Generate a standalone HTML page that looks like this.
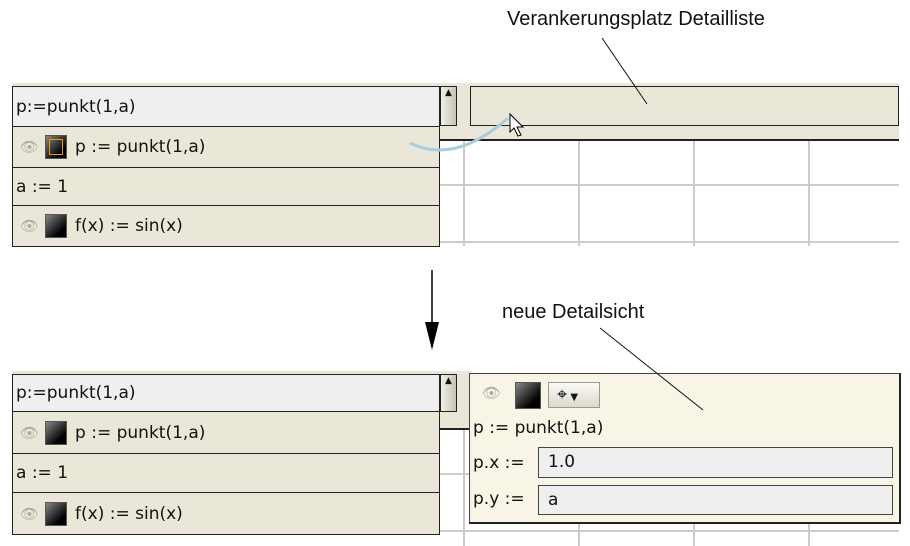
<!DOCTYPE html>
<html><head><style>
body{margin:0;width:910px;height:546px;background:#fff;position:relative;overflow:hidden;font-family:"DejaVu Sans","Liberation Sans",sans-serif;font-size:17px;color:#111}
.a{position:absolute;box-sizing:border-box}
.row{position:absolute;box-sizing:border-box;left:12px;width:428px;border:1px solid #222;border-top:none;background:#ebe7d8;padding-left:3px;display:flex;align-items:center}
.hdr{border-top:1px solid #222;background:#efefef}
.eye{color:#aaa;font-size:15px;margin:0 6px 0 4px}
.sq{width:22px;height:24px;background:linear-gradient(135deg,#888,#000 75%);border:1px solid #555;margin-right:8px;box-sizing:border-box}
.lab{font-family:"Liberation Sans",sans-serif;font-size:20px}
.gl{position:absolute;background:#ccc}
</style></head><body>
<div class="a lab" style="left:507px;top:8px">Verankerungsplatz Detailliste</div>
<div class="a lab" style="left:502px;top:301px">neue Detailsicht</div>

<div class="gl" style="left:463px;top:141px;width:2px;height:105px"></div>
<div class="gl" style="left:578px;top:141px;width:2px;height:105px"></div>
<div class="gl" style="left:693px;top:141px;width:2px;height:105px"></div>
<div class="gl" style="left:808px;top:141px;width:2px;height:105px"></div>
<div class="gl" style="left:440px;top:184px;width:459px;height:2px"></div>
<div class="gl" style="left:440px;top:241px;width:459px;height:2px"></div>
<div class="a" style="left:12px;top:83px;width:887px;height:58px;background:#ebe7d8;border-bottom:2px solid #222"></div>
<div class="a" style="left:470px;top:86px;width:429px;height:40px;border:1px solid #222;background:#ebe7d8"></div>
<div class="a" style="left:440px;top:86px;width:17px;height:40px;border:1px solid #222;background:linear-gradient(90deg,#f2f0e6,#c8c4b4);font-size:9px;text-align:center;line-height:12px">▲</div>
<div class="row hdr" style="top:86px;height:41px">p:=punkt(1,a)</div>
<div class="row" style="top:127px;height:41px"><span class="eye">👁</span><div class="sq" style="outline:1px solid #e90;outline-offset:-5px"></div>p := punkt(1,a)</div>
<div class="row" style="top:168px;height:38px">a := 1</div>
<div class="row" style="top:206px;height:41px"><span class="eye">👁</span><div class="sq"></div>f(x) := sin(x)</div>

<div class="gl" style="left:463px;top:430px;width:2px;height:116px"></div>
<div class="gl" style="left:578px;top:430px;width:2px;height:116px"></div>
<div class="gl" style="left:693px;top:430px;width:2px;height:116px"></div>
<div class="gl" style="left:808px;top:430px;width:2px;height:116px"></div>
<div class="gl" style="left:440px;top:473px;width:459px;height:2px"></div>
<div class="gl" style="left:440px;top:530px;width:459px;height:2px"></div>
<div class="a" style="left:12px;top:371px;width:460px;height:59px;background:#ebe7d8;border-bottom:2px solid #222"></div>
<div class="a" style="left:440px;top:374px;width:17px;height:38px;border:1px solid #222;background:linear-gradient(90deg,#f2f0e6,#c8c4b4);font-size:9px;text-align:center;line-height:12px">▲</div>
<div class="row hdr" style="top:374px;height:38px">p:=punkt(1,a)</div>
<div class="row" style="top:412px;height:42px"><span class="eye">👁</span><div class="sq"></div>p := punkt(1,a)</div>
<div class="row" style="top:454px;height:39px">a := 1</div>
<div class="row" style="top:493px;height:42px"><span class="eye">👁</span><div class="sq"></div>f(x) := sin(x)</div>

<div class="a" style="left:469px;top:373px;width:432px;height:151px;background:#f8f5e6;border:1px solid #444;border-bottom:2px solid #222;border-right:2px solid #222"></div>
<div class="a eye" style="left:478px;top:384px">👁</div>
<div class="a sq" style="left:515px;top:382px;width:26px;height:27px"></div>
<div class="a" style="left:548px;top:382px;width:52px;height:26px;border:1px solid #999;background:linear-gradient(#fafaf6,#dcd9cc);font-size:18px;padding-left:8px;line-height:24px">⌖<span style="font-size:10px"> ▼</span></div>
<div class="a" style="left:473px;top:418px">p := punkt(1,a)</div>
<div class="a" style="left:473px;top:453px">p.x :=</div>
<div class="a" style="left:538px;top:447px;width:355px;height:31px;border:1px solid #444;background:#efefef;padding-left:9px;line-height:29px">1.0</div>
<div class="a" style="left:473px;top:489px">p.y :=</div>
<div class="a" style="left:538px;top:485px;width:355px;height:30px;border:1px solid #444;background:#efefef;padding-left:9px;line-height:28px">a</div>

<svg class="a" style="left:0;top:0" width="910" height="546">
<line x1="602" y1="38" x2="647" y2="104" stroke="#111" stroke-width="1"/>
<line x1="600" y1="328" x2="703" y2="410" stroke="#111" stroke-width="1"/>
<path d="M410 143 Q455 165 508 118" stroke="#a8cde0" stroke-width="3" fill="none"/>
<path d="M510 114 L510 132 L514 128 L518 136 L521 135 L517 127 L523 127 Z" fill="#fff" stroke="#000" stroke-width="1"/>
<line x1="432" y1="270" x2="432" y2="325" stroke="#000" stroke-width="1.5"/>
<path d="M425 322 L432 350 L439 322 Z" fill="#000"/>
</svg>
</body></html>
